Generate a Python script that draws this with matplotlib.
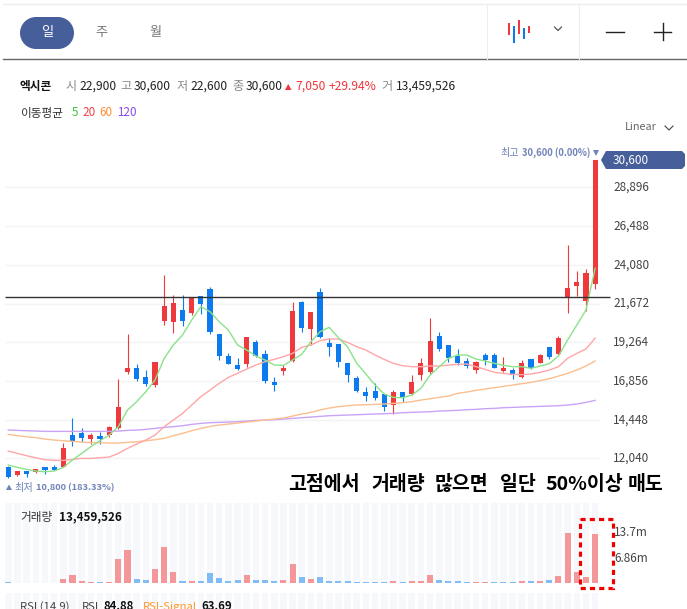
import matplotlib
matplotlib.use("Agg")
import matplotlib.pyplot as plt
from matplotlib.patches import Polygon, Rectangle, Ellipse

plt.rcParams['font.family'] = ['Noto Sans CJK KR', 'DejaVu Sans']

W, H = 687, 609

opens = [11520,11010,11260,11190,11500,11500,11520,13490,13620,13250,13430,13470,13930,17410,17660,17100,16580,
         20580,20520,21270,21080,22140,22570,19780,18410,17850,17910,19280,18530,16790,17470,18100,21770,20090,
         22390,19220,19150,17970,17040,16170,16230,16040,15360,16170,16040,17230,17410,19650,19090,18430,18100,
         17540,18470,18470,17470,17540,17100,18220,17970,18970,18530,22010,22760,21830,22900]
closes = [10900,11260,11070,11360,11320,11320,12690,13120,13310,13490,13220,13990,15240,17660,16980,16670,18030,
          21520,21700,20580,22030,21640,19900,18410,17910,17600,19590,18410,16850,16600,17660,21210,20150,21140,
          19590,18970,18030,17230,16230,15920,15790,15240,16170,15790,16790,17970,19340,18840,18280,17970,17790,
          18030,18160,17660,17660,17230,17970,17660,18470,18350,19530,22640,23010,23570,30600]
highs = [11590,11260,11260,11400,11500,11610,12980,14530,13930,13600,13700,14050,16980,19750,17910,17520,18030,
         23420,22200,22200,22100,22140,22720,19780,18590,18280,19590,19400,18780,17080,17850,21770,21830,21140,
         22640,19510,19150,17970,17160,16500,16730,16040,16290,16170,17230,18260,20770,19880,19090,18820,18260,
         18100,18570,18570,18350,17660,18160,18220,18510,18970,19630,25310,23670,23820,30600]
lows = [10800,10940,10900,11130,11070,11320,11480,12830,13080,12930,12910,13390,13870,17310,16850,16520,16500,
        20310,19840,20270,20960,21020,19800,18180,17910,17540,17720,18320,16730,16230,17250,18010,19900,19090,
        19510,18430,17740,16790,16190,15630,15670,15010,14800,15550,16000,16910,17290,18740,18030,17830,17660,
        17370,17850,17660,17390,17000,17040,17600,17970,18220,18470,21100,22140,21210,22600]
ma5 = [11628,11483,11358,11255,11213,11255,11483,11939,12353,12768,13141,13494,14012,15048,15567,16188,16914,
       18261,19091,19713,20645,21475,21164,20542,20024,19091,18780,18407,18158,17847,17826,18158,18510,19298,
       19920,20189,19547,18987,17951,17287,16603,16043,15836,15815,15981,16396,17225,17743,18261,18469,18469,
       18220,18096,17951,17826,17744,17744,17640,17785,17930,18407,19402,20335,21268,23859]
ma20 = [12498,12354,12208,12084,11960,11918,11918,11980,12042,12042,12084,12125,12354,12664,12934,13183,13494,
        14012,14426,14841,15359,15877,16292,16707,17080,17329,17598,17847,18054,18199,18365,18572,18946,19091,
        19360,19464,19464,19257,18987,18780,18469,18199,17951,17806,17743,17743,17785,17785,17847,17889,17910,
        17744,17578,17391,17329,17267,17246,17288,17391,17536,17744,18262,18573,18842,19526]
ma60 = [13535,13452,13390,13328,13245,13183,13141,13100,13058,13017,13017,12996,12996,13038,13079,13141,13203,
        13286,13452,13597,13763,13908,14033,14115,14178,14240,14302,14364,14426,14488,14551,14675,14800,14903,
        15048,15173,15256,15318,15359,15380,15401,15422,15463,15504,15567,15670,15753,15836,15919,16085,16168,
        16272,16355,16438,16520,16603,16686,16769,16873,16997,17163,17329,17536,17785,18096]
ma120 = [13805,13784,13763,13742,13722,13722,13722,13722,13722,13722,13722,13722,13742,13784,13805,13846,13908,
         13970,14012,14074,14157,14219,14261,14281,14302,14323,14364,14406,14426,14447,14488,14530,14571,14613,
         14654,14696,14716,14737,14758,14779,14800,14820,14841,14882,14903,14924,14945,14986,15007,15028,15069,
         15090,15132,15152,15193,15214,15235,15256,15277,15297,15318,15360,15422,15525,15650]
volumes = [0.25,0.03,0.03,0.03,0.03,0.03,1.1,2.2,0.55,0.25,0.25,0.25,6.67,9.2,1.1,0.83,3.9,10.0,3.05,0.55,0.55,0.55,
           2.8,1.4,0.55,0.83,2.2,0.83,0.83,0.55,0.83,5.3,1.67,1.1,1.67,0.55,0.55,0.55,0.2,0.2,0.2,0.2,0.55,0.2,
           0.55,0.55,2.2,0.83,0.55,0.55,0.2,0.2,0.2,0.2,0.2,0.2,0.55,0.55,0.55,0.83,1.95,13.7,3.05,1.67,13.46]
vol_up = [False,False,False,False,False,False,True,True,True,True,False,True,True,True,False,False,True,True,True,
          False,True,False,False,False,False,False,True,False,False,False,True,True,False,True,False,False,False,
          False,False,False,False,False,True,False,True,True,True,False,False,False,False,True,True,False,False,
          False,True,False,True,False,True,True,True,True,True]
price_ticks = [28896, 26488, 24080, 21672, 19264, 16856, 14448, 12040]
LAST_PRICE = 30600
REF_LINE = 22100

RED, BLUE = '#ef3a3d', '#0b7bef'
NAVY = '#465e9a'
xs = list(range(len(closes)))

fig = plt.figure(figsize=(W / 100, H / 100), dpi=100, facecolor='white')


def make_ax(x0, y0, x1, y1):
    a = fig.add_axes([x0 / W, 1 - y1 / H, (x1 - x0) / W, (y1 - y0) / H])
    a.set_xticks([]); a.set_yticks([])
    for s in a.spines.values():
        s.set_visible(False)
    a.patch.set_alpha(0)
    return a


XL = (-0.36, 64.53)
# price panel
ax = make_ax(5, 140, 600, 500)
ax.set_xlim(*XL)
ax.set_ylim(9456, 31837)
for t in price_ticks:
    ax.axhline(t, color='#f3f3f3', lw=1, zorder=1)
    ax.annotate(f"{t:,}", (1, t), xycoords=('axes fraction', 'data'), xytext=(13 * .72, 0),
                textcoords='offset points', va='center', ha='left', fontsize=8.5, color='#444444',
                annotation_clip=False)
for i in xs:
    c = RED if closes[i] >= opens[i] else BLUE
    ax.vlines(i, lows[i], highs[i], color=c, lw=0.8, zorder=3)
    ax.bar(i, abs(closes[i] - opens[i]), bottom=min(opens[i], closes[i]), width=0.56, color=c, lw=0, zorder=3)
ax.plot(xs, ma120, color='#c9a3f7', lw=1.0, zorder=4)
ax.plot(xs, ma60, color='#fbbf8e', lw=1.0, zorder=4)
ax.plot(xs, ma20, color='#ffa6a8', lw=1.0, zorder=4)
ax.plot(xs, ma5, color='#8ae28a', lw=1.0, zorder=4)
ax.hlines(REF_LINE, XL[0], 65.6, color='#333333', lw=1.0, zorder=5, clip_on=False)

# volume panel
vax = make_ax(5, 503, 600, 583)
vax.set_xlim(*XL)
vax.set_ylim(0, 22.1)
vax.bar(xs, [22.1] * 65, width=0.72, color='#f7f8fc', lw=0, zorder=1)
vax.bar(xs, volumes, width=0.66, color=['#f4979b' if u else '#80bdf7' for u in vol_up], lw=0, zorder=2)

# RSI panel (cut off by the edge of the picture)
rax = make_ax(5, 593, 600, 609)
rax.set_xlim(*XL)
rax.set_ylim(0, 1)
rax.bar(xs, [1] * 65, width=0.72, color='#f7f8fc', lw=0, zorder=1)

# overlay for chrome
ov = make_ax(0, 0, W, H)
ov.set_xlim(0, W)
ov.set_ylim(H, 0)
ov.set_zorder(10)


def T(x, y, s, size=8.6, color='#222222', weight='normal', ha='left'):
    ov.text(x, y, s, fontsize=size, color=color, fontweight=weight, ha=ha, va='center')


ov.plot([3, W], [3.5, 3.5], color='#eeeeee', lw=1)
ov.plot([3, W], [59, 59], color='#666666', lw=1)
for x in (486.5, 579):
    ov.plot([x, x], [4, 59], color='#eeeeee', lw=0.8)
ov.add_patch(Rectangle((36, 17), 22, 32, fc=NAVY, ec='none'))
ov.add_patch(Ellipse((36, 33), 32, 32, fc=NAVY, ec='none'))
ov.add_patch(Ellipse((58, 33), 32, 32, fc=NAVY, ec='none'))
T(47, 32.5, '일', 9.5, 'white', ha='center')
T(101, 32.5, '주', 9.5, '#777777', ha='center')
T(155, 32.5, '월', 9.5, '#777777', ha='center')

# chart-type icon
for x, y0, y1, c in [(509, 23, 35, RED), (514, 26, 43, BLUE), (519, 20, 34, RED), (524, 28, 39, BLUE), (529, 26, 33, RED)]:
    ov.add_patch(Rectangle((x - 1.2, y0), 2.4, y1 - y0, fc=c, ec='none'))
ov.plot([554.5, 558, 561.5], [27, 30.5, 27], color='#444444', lw=0.8)
ov.plot([606, 624], [31.5, 31.5], color='#222222', lw=1)
ov.plot([654, 671], [31.5, 31.5], color='#222222', lw=1)
ov.plot([662.5, 662.5], [23, 40], color='#222222', lw=1)

# info row
T(20, 86.5, '엑시콘', 8.4, '#111111', 'bold')
GR = '#888888'
for x, s, c in [(65, '시', GR), (79, '22,900', '#222222'), (120, '고', GR), (134, '30,600', '#222222'),
                (176, '저', GR), (190, '22,600', '#222222'), (232, '종', GR), (246, '30,600', '#222222'),
                (295, '7,050', '#f0353b'), (329, '+29.94%', '#f0353b'), (381, '거', GR), (396, '13,459,526', '#222222')]:
    T(x, 86.5, s, 8.7, c)
ov.add_patch(Polygon([(285, 90), (291.5, 90), (288.2, 84)], fc='#f0353b', ec='none'))
T(20, 113, '이동평균', 8.4, '#333333')
T(72, 113, '5', 8.4, '#37c837')
T(82, 113, '20', 8.4, '#f5404a')
T(99, 113, '60', 8.4, '#ff8c33')
T(117, 113, '120', 8.4, '#8a4af0')
T(625, 127, 'Linear', 7.8, '#666666')
ov.plot([665, 669, 673], [126, 130, 126], color='#444444', lw=0.8)

# price flag
ov.add_patch(Polygon([(601, 160), (606, 151), (682, 151), (685, 154), (685, 166), (682, 169), (606, 169)],
                     fc=NAVY, ec='none'))
T(613, 160.5, f"{LAST_PRICE:,}", 8.5, 'white')
T(500, 153, '최고', 7.3, '#6f83b8')
T(521.5, 153, '30,600 (0.00%)', 6.8, '#6f83b8', 'bold')
ov.add_patch(Polygon([(593, 150), (599, 150), (596, 156)], fc='#6f83b8', ec='none'))
ov.add_patch(Polygon([(6, 490), (12, 490), (9, 484.5)], fc='#6f83b8', ec='none'))
T(14, 487.5, '최저', 7.3, '#6f83b8')
T(36.5, 487.5, '10,800 (183.33%)', 6.7, '#6f83b8', 'bold')

# annotation, one piece per word to keep the reference's wide word spacing
for x, word in [(288, '고점에서'), (371.5, '거래량'), (435, '많으면'), (500, '일단'), (545, '50%이상'), (628, '매도')]:
    T(x, 484.5, word, 14, '#000000', 'bold')

# volume labels
T(20, 517, '거래량', 8.4, '#333333')
T(59, 517, '13,459,526', 8.4, '#111111', 'bold')
T(614, 533, '13.7m', 8.5, '#444444')
T(614, 558, '6.86m', 8.5, '#444444')
T(20, 607, 'RSI (14,9)', 8.2, '#444444')
T(82, 607, 'RSI', 8.2, '#444444')
T(103, 607, '84.88', 8.2, '#111111', 'bold')
T(143, 607, 'RSI-Signal', 8.2, '#ff9a2e')
T(201, 607, '63.69', 8.2, '#111111', 'bold')

# red dashed highlight
ov.add_patch(Rectangle((580, 519), 32.5, 69, fc='none', ec='#ee0000', lw=2.3, ls=(0, (1.6, 1.3))))

fig.savefig('out.png', dpi=100, facecolor='white')
